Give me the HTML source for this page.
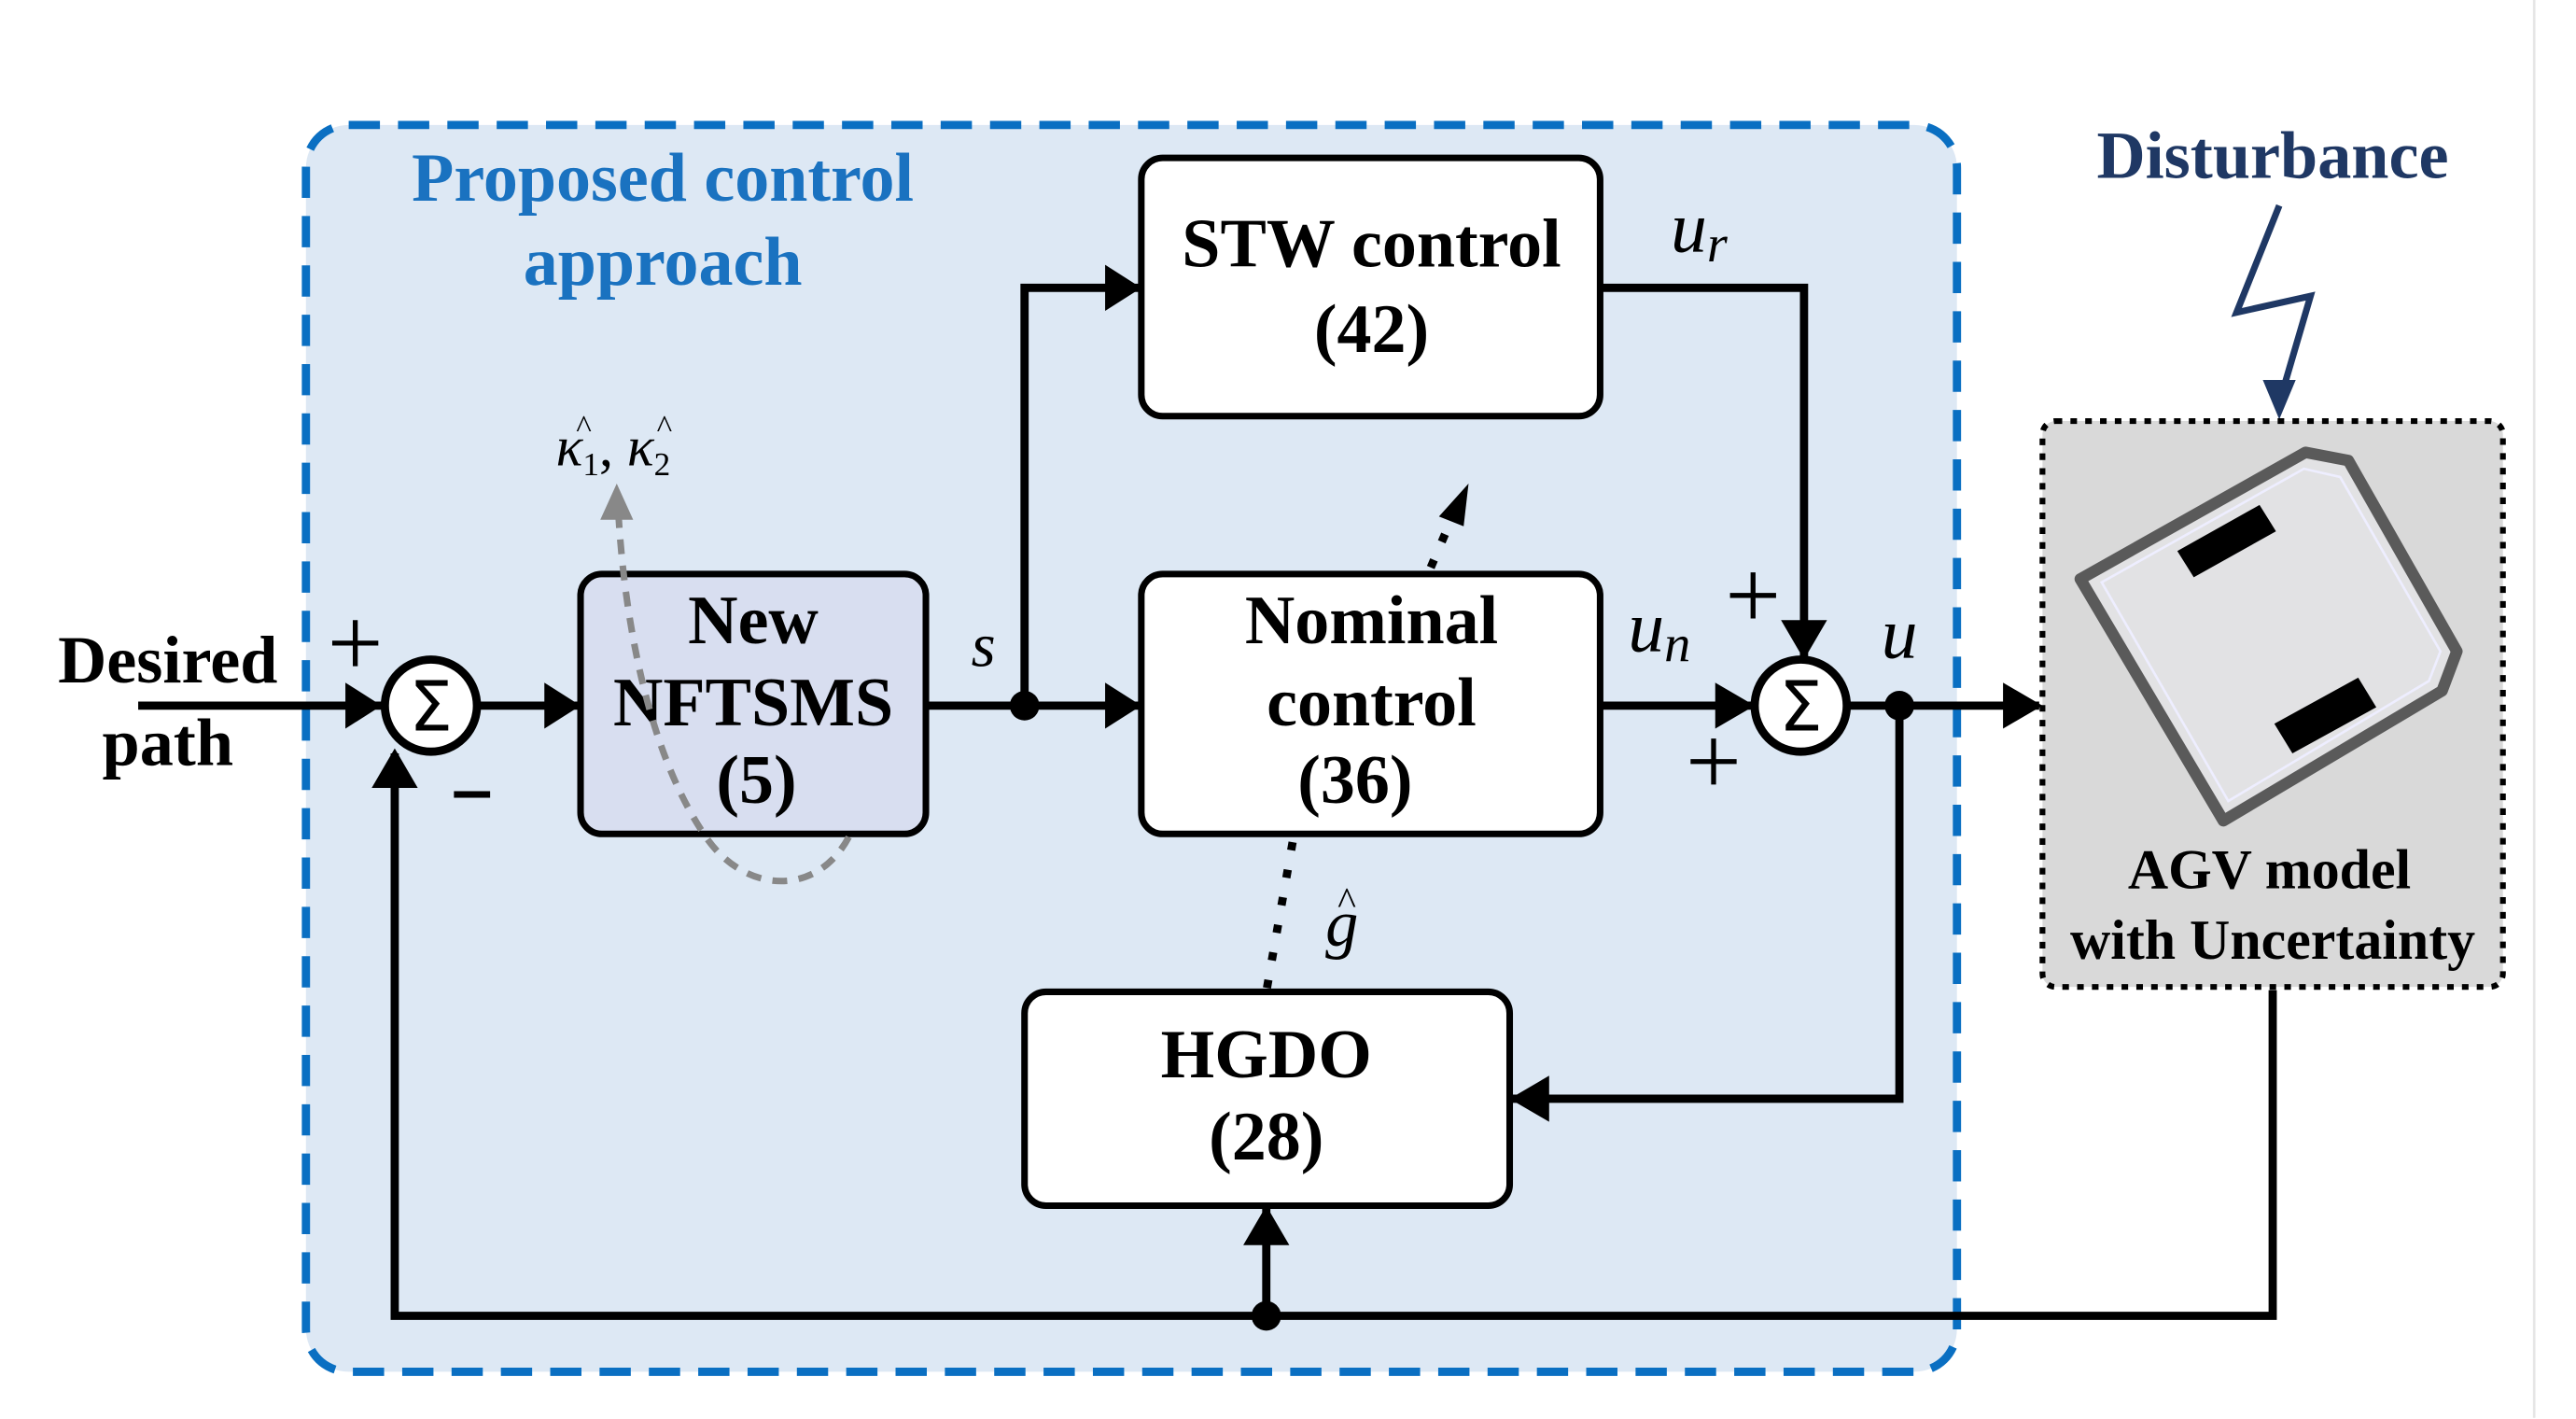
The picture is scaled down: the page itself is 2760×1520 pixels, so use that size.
<!DOCTYPE html>
<html><head><meta charset="utf-8"><style>
html,body{margin:0;padding:0;background:#fff;}
svg{display:block;}
text{font-family:"Liberation Serif",serif;}
</style></head><body>
<svg width="2760" height="1520" viewBox="0 0 1566.4 862.7" xmlns="http://www.w3.org/2000/svg">
<rect x="0" y="0" width="1566.4" height="862.7" fill="#fff"/>
<line x1="1541" y1="0" x2="1541" y2="862" stroke="#e6e6e6" stroke-width="1.5"/>
<rect x="186" y="76" width="1004" height="758" rx="26" fill="#dde8f4" stroke="#0a6fc2" stroke-width="5" stroke-dasharray="19 11"/>
<text x="403" y="122" font-size="42" font-weight="bold" fill="#1a72c0" text-anchor="middle">Proposed control</text>
<text x="403" y="173" font-size="42" font-weight="bold" fill="#1a72c0" text-anchor="middle">approach</text>

<g stroke="#000" stroke-width="5" fill="none">
<line x1="84" y1="429" x2="232" y2="429"/>
<line x1="290" y1="429" x2="353" y2="429"/>
<line x1="563" y1="429" x2="694" y2="429"/>
<polyline points="623,429 623,175 694,175"/>
<polyline points="973,175 1097,175 1097,399"/>
<line x1="973" y1="429" x2="1066" y2="429"/>
<line x1="1123" y1="429" x2="1240" y2="429"/>
<polyline points="1155,429 1155,668 918,668"/>
<polyline points="1382,602 1382,800 240,800 240,458"/>
<line x1="770" y1="800" x2="770" y2="734"/>
</g>
<g fill="#000">
<path d="M232,429 l-22,-14 v28z"/>
<path d="M353,429 l-22,-14 v28z"/>
<path d="M694,429 l-22,-14 v28z"/>
<path d="M694,175 l-22,-14 v28z"/>
<path d="M1097,401 l-14,-24 h28z"/>
<path d="M1067,429 l-24,-14 v28z"/>
<path d="M1242,429 l-24,-14 v28z"/>
<path d="M918,668 l24,-14 v28z"/>
<path d="M240,455 l-14,24 h28z"/>
<path d="M770,733 l-14,24 h28z"/>
<circle cx="623" cy="429" r="9"/>
<circle cx="1155" cy="429" r="9"/>
<circle cx="770" cy="800" r="9"/>
</g>

<rect x="694" y="96" width="279" height="157" rx="13" fill="#fff" stroke="#000" stroke-width="4"/>
<text x="834" y="162" font-size="42" font-weight="bold" text-anchor="middle">STW control</text>
<text x="834" y="214" font-size="42" font-weight="bold" text-anchor="middle">(42)</text>

<rect x="694" y="349" width="279" height="158" rx="13" fill="#fff" stroke="#000" stroke-width="4"/>
<text x="834" y="391" font-size="42" font-weight="bold" text-anchor="middle">Nominal</text>
<text x="834" y="441" font-size="42" font-weight="bold" text-anchor="middle">control</text>
<text x="824" y="488" font-size="42" font-weight="bold" text-anchor="middle">(36)</text>

<rect x="353" y="349" width="210" height="158" rx="13" fill="#d8def0" stroke="#000" stroke-width="4"/>
<text x="458" y="391" font-size="42" font-weight="bold" text-anchor="middle">New</text>
<text x="458" y="441" font-size="42" font-weight="bold" text-anchor="middle">NFTSMS</text>
<text x="460" y="488" font-size="42" font-weight="bold" text-anchor="middle">(5)</text>

<rect x="623" y="603" width="295" height="130" rx="13" fill="#fff" stroke="#000" stroke-width="4"/>
<text x="770" y="655" font-size="42" font-weight="bold" text-anchor="middle">HGDO</text>
<text x="770" y="705" font-size="42" font-weight="bold" text-anchor="middle">(28)</text>

<circle cx="262" cy="429" r="28" fill="#fff" stroke="#000" stroke-width="5"/>
<text x="262" y="444" font-size="42" text-anchor="middle" style="font-family:'DejaVu Sans',sans-serif">Σ</text>
<circle cx="1095" cy="429" r="28" fill="#fff" stroke="#000" stroke-width="5"/>
<text x="1095" y="444" font-size="42" text-anchor="middle" style="font-family:'DejaVu Sans',sans-serif">Σ</text>

<text x="102" y="415" font-size="41" font-weight="bold" text-anchor="middle">Desired</text>
<text x="102" y="465" font-size="41" font-weight="bold" text-anchor="middle">path</text>
<g stroke="#000" stroke-width="3">
<path d="M202,391 h28 M216,377 v28"/>
<path d="M1052,362 h28 M1066,348 v28"/>
<path d="M1028,463 h28 M1042,449 v28"/>
</g>
<rect x="276" y="481" width="22" height="4" fill="#000"/>
<text x="598" y="405" font-size="38" font-style="italic" text-anchor="middle">s</text>
<text x="1016" y="153" font-size="44" font-style="italic">u<tspan font-size="32" dy="6">r</tspan></text>
<text x="990" y="396" font-size="44" font-style="italic">u<tspan font-size="32" dy="6">n</tspan></text>
<text x="1144" y="400" font-size="44" font-style="italic">u</text>
<text x="816" y="575" font-size="40" font-style="italic" text-anchor="middle">g</text>
<text x="819" y="556" font-size="24" text-anchor="middle">^</text>
<text x="338" y="283" font-size="34" font-style="italic">κ<tspan font-size="20" dy="6" font-style="normal">1</tspan><tspan dy="-6" font-style="normal">, </tspan>κ<tspan font-size="20" dy="6" font-style="normal">2</tspan></text>
<text x="355" y="266" font-size="20" text-anchor="middle">^</text>
<text x="404" y="266" font-size="20" text-anchor="middle">^</text>

<path d="M376,312 C380,380 395,460 430,510 C455,545 500,545 518,505" fill="none" stroke="#888" stroke-width="4" stroke-dasharray="9 7"/>
<path d="M375,294 l-10,22 h20z" fill="#888"/>
<path d="M786,512 L770,603" stroke="#000" stroke-width="5" stroke-dasharray="5 12" fill="none"/>
<path d="M870,345 L885,310" stroke="#000" stroke-width="5" stroke-dasharray="5 12" fill="none"/>
<path d="M893,294 l-18,20 l15,6z" fill="#000"/>

<text x="1382" y="108" font-size="41" font-weight="bold" fill="#1f3864" text-anchor="middle">Disturbance</text>
<polyline points="1386,125 1360,190 1405,180 1388,238" fill="none" stroke="#1f3864" stroke-width="4"/>
<path d="M1386,255 l-10,-24 h20z" fill="#1f3864"/>

<rect x="1242" y="256" width="280" height="344" rx="8" fill="#d9d9d9" stroke="#000" stroke-width="3.5" stroke-dasharray="4 5"/>
<polygon points="1265,352 1402,275 1428,280 1494,396 1485,420 1352,499" fill="#e2e2e4" stroke="#5a5a5a" stroke-width="7" stroke-linejoin="round"/>
<polygon points="1278,354 1401,285 1423,290 1484,396 1477,414 1355,487" fill="none" stroke="#eef" stroke-width="1.5"/>
<polygon points="1324,335 1374,307 1384,323 1334,351" fill="#000"/>
<polygon points="1383,440 1434,412 1445,430 1394,458" fill="#000"/>
<text x="1380" y="540" font-size="34" font-weight="bold" text-anchor="middle">AGV model</text>
<text x="1382" y="583" font-size="34" font-weight="bold" text-anchor="middle">with Uncertainty</text>
</svg>
</body></html>
